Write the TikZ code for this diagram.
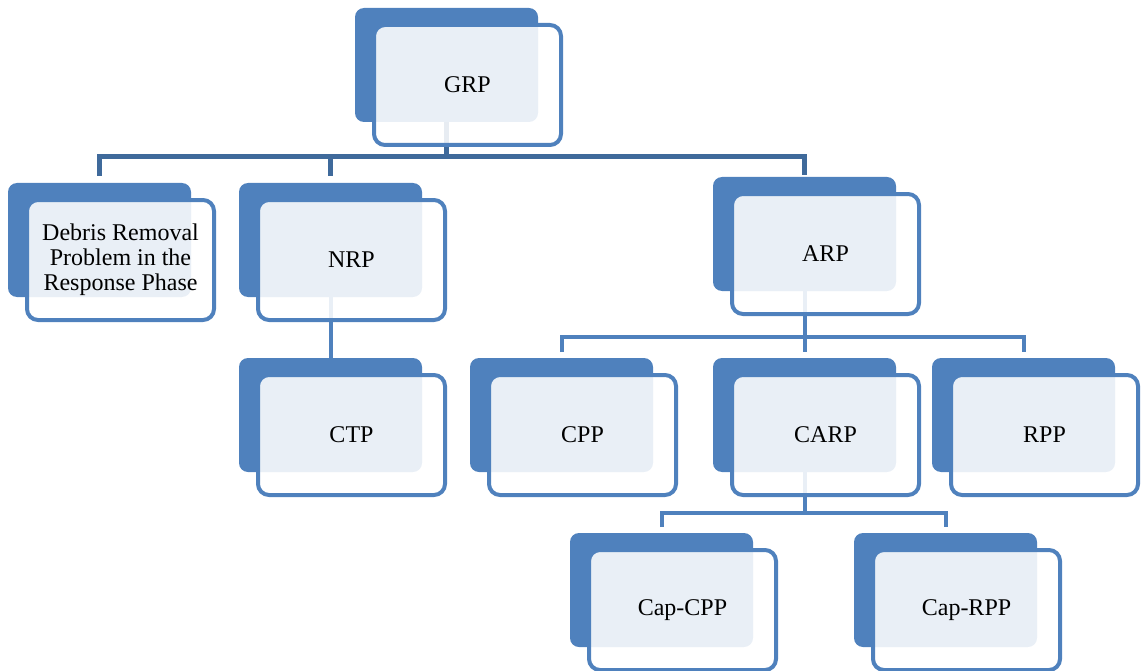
\documentclass[tikz,border=0pt]{standalone}
\usepackage{fontspec}
\setmainfont{Liberation Serif}
\usetikzlibrary{calc}
\definecolor{tierblue}{HTML}{4F81BD}
\definecolor{busblue}{HTML}{3F6A9B}
\begin{document}
\begin{tikzpicture}[x=1pt,y=-1pt,
  backbox/.style={fill=tierblue, rounded corners=9pt, minimum width=183pt,
    minimum height=114pt, anchor=north west, inner sep=0pt, outer sep=0pt},
  frontbox/.style={draw=tierblue, line width=4pt, fill=white, fill opacity=0.88,
    text opacity=1, rounded corners=11pt, minimum width=187pt, minimum height=120pt,
    anchor=north west, inner sep=0pt, outer sep=0pt, text=black, align=center,
    font=\fontsize{24}{25}\selectfont},
  topbus/.style={draw=busblue, line width=5pt},
  subbus/.style={draw=tierblue, line width=4pt}]
\useasboundingbox (0,0) rectangle (1142,671);

% shadow plates behind each box
\foreach \n/\x/\y in {grp/355/8, drp/8/183, nrp/239/183, arp/713/177,
    ctp/239/358, cpp/470/358, carp/713/358, rpp/932/358,
    capcpp/570/533, caprpp/854/533}
  \node[backbox] (\n-b) at (\x,\y) {};

% connectors
\coordinate (bus1) at (447,157);
\coordinate (bus2) at (805,337);
\coordinate (bus3) at (805,513);
\draw[topbus] (grp-b.south) -- (grp-b.south |- bus1);
\draw[topbus] ([yshift=7pt]drp-b.north) |- (bus1) -| ([yshift=2pt]arp-b.north);
\draw[topbus] ([yshift=7pt]nrp-b.north) -- (nrp-b.north |- bus1);
\draw[subbus] (nrp-b.south) -- (ctp-b.north);
\draw[subbus] (arp-b.south) -- ([yshift=6pt]carp-b.north);
\draw[subbus] ([yshift=6pt]cpp-b.north) |- (bus2) -| ([yshift=6pt]rpp-b.north);
\draw[subbus] (carp-b.south) -- (carp-b.south |- bus3);
\draw[subbus] ([yshift=6pt]capcpp-b.north) |- (bus3) -| ([yshift=6pt]caprpp-b.north);

% labelled front boxes
\foreach \n/\x/\y/\t in {grp/355/8/GRP,
    drp/8/183/{Debris Removal\\Problem in the\\Response Phase},
    nrp/239/183/NRP, arp/713/177/ARP, ctp/239/358/CTP, cpp/470/358/CPP,
    carp/713/358/CARP, rpp/932/358/RPP, capcpp/570/533/Cap-CPP,
    caprpp/854/533/Cap-RPP}
  \node[frontbox] (\n-f) at (\x+19,\y+17) {\t};
\end{tikzpicture}
\end{document}
